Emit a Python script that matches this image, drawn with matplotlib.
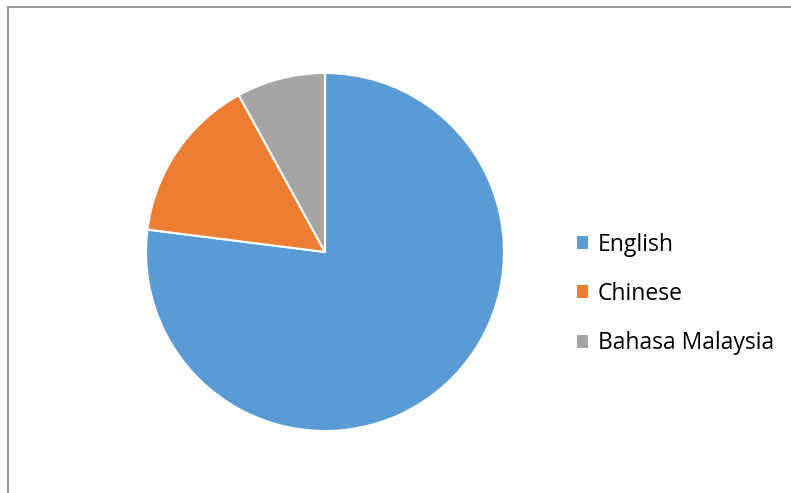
import matplotlib
matplotlib.use("Agg")
import matplotlib.pyplot as plt
from matplotlib.lines import Line2D

labels = ["English", "Chinese", "Bahasa Malaysia"]
values = [77, 15, 8]
colors = ["#5B9BD5", "#ED7D31", "#A5A5A5"]

W, H = 791, 493
fig = plt.figure(figsize=(W/100, H/100), dpi=100)
fig.patch.set_facecolor("white")

# pie axes: center (325,252), radius 179 px
cx, cy, r = 325, 252, 179
ax = fig.add_axes([(cx - r)/W, (H - cy - r)/H, 2*r/W, 2*r/H])
wedges, _ = ax.pie(values, colors=colors, startangle=90, counterclock=False,
                   radius=1, wedgeprops=dict(edgecolor="white", linewidth=1.5))
ax.set_xlim(-1.0, 1.0)
ax.set_ylim(-1.0, 1.0)
ax.set_aspect("equal")
ax.axis("off")

leg = fig.legend(wedges, labels, loc="center left",
                 bbox_to_anchor=(558.5/W, 1 - 294/H), frameon=False,
                 prop=dict(family="Open Sans", size=16.5),
                 handlelength=0.5, handleheight=0.5, handletextpad=0.42,
                 labelspacing=1.1, borderpad=0.3)
for h in leg.legend_handles:
    h.set_edgecolor("none")

# chart area border (left and top only visible)
fig.add_artist(Line2D([7.5/W, 7.5/W], [0, 1 - 6.5/H], transform=fig.transFigure,
                      color="#999999", linewidth=1.5))
fig.add_artist(Line2D([7.5/W, 1], [1 - 6.5/H, 1 - 6.5/H], transform=fig.transFigure,
                      color="#999999", linewidth=1.5))

fig.savefig("out.png", dpi=100, facecolor="white")
